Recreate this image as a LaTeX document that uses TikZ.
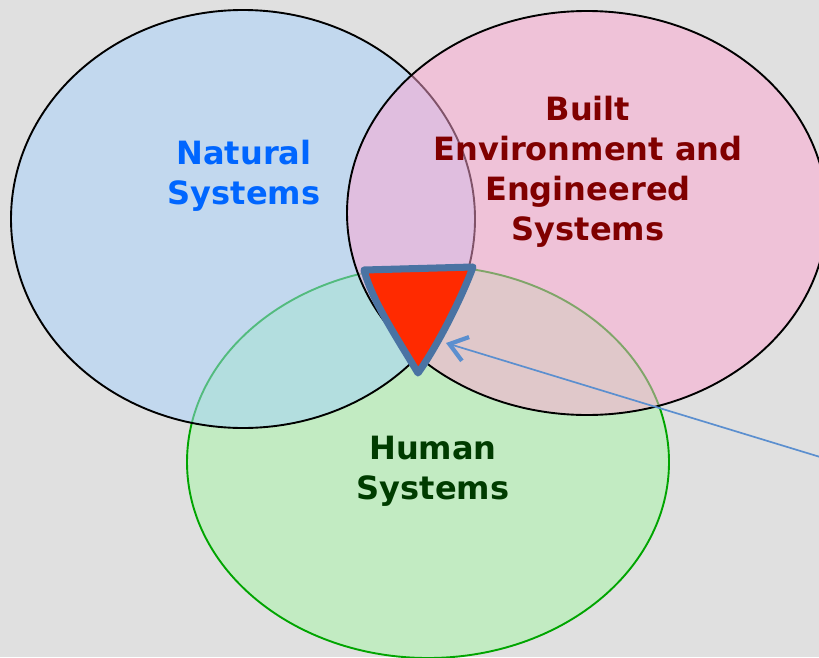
\documentclass[tikz,border=0pt]{standalone}
\usepackage{fontspec}
\setmainfont{DejaVu Sans}
\usepackage{tikz}
\usetikzlibrary{arrows.meta}

\definecolor{bggrey}{RGB}{224,224,224}
\definecolor{natfill}{RGB}{166,210,252}
\definecolor{builtfill}{RGB}{255,166,210}
\definecolor{humanfill}{RGB}{166,246,166}
\definecolor{humanline}{RGB}{0,165,0}
\definecolor{nattext}{RGB}{0,102,255}
\definecolor{builttext}{RGB}{128,0,0}
\definecolor{humantext}{RGB}{0,60,0}
\definecolor{spotred}{RGB}{255,42,0}
\definecolor{spotline}{RGB}{74,115,163}
\definecolor{pointerblue}{RGB}{91,143,207}

\tikzset{
    venn/.style={line width=1.35pt, fill opacity=0.5},
    setlabel/.style={font=\bfseries\fontsize{22.8}{28.45}\selectfont, align=center, inner sep=0pt},
    hotspot/.style={fill=spotred, draw=spotline, line width=5pt, line join=round},
    pointer/.style={draw=pointerblue, line width=1.2pt,
        -{Straight Barb[length=0.42cm, width=0.62cm, line width=3pt]}}
}

\begin{document}
\begin{tikzpicture}[x=0.025cm, y=-0.025cm]
            \fill[bggrey] (0, 0) rectangle (819, 657);
            \useasboundingbox (0, 0) rectangle (819, 657);

            % the three sets
            \draw[venn, draw=humanline, fill=humanfill] (428, 462) ellipse [x radius=241, y radius=196];
            \draw[venn, draw=black, fill=natfill] (243, 219) ellipse [x radius=232, y radius=209];
            \draw[venn, draw=black, fill=builtfill] (587, 213) ellipse [x radius=240, y radius=202];

            \node[setlabel, text=nattext] (natural) at (244, 176) {Natural\\Systems};
            \node[setlabel, text=builttext] (built) at (588, 172) {Built\\Environment and\\Engineered\\Systems};
            \node[setlabel, text=humantext] (human) at (433, 471) {Human\\Systems};

            % the common part
            \coordinate (spotleft) at (364, 270);
            \coordinate (spotright) at (473, 267);
            \coordinate (spotbottom) at (418, 373);
            \draw[hotspot]
                (spotleft) -- (spotright)
                    .. controls (462, 297) and (438, 345) .. (spotbottom)
                    .. controls (395, 335) and (372, 300) .. cycle;

            \coordinate (pointertail) at (830, 460);
            \coordinate (pointertip) at (446, 343);
            \draw[pointer] (pointertail) -- (pointertip);
        \end{tikzpicture}
\end{document}
